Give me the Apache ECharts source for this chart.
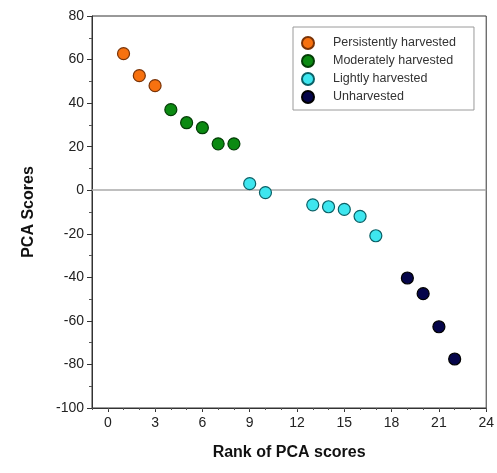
<!DOCTYPE html>
<html>
<head>
<meta charset="utf-8">
<script src="https://cdn.jsdelivr.net/npm/echarts@6/dist/echarts.min.js"></script>
<style>
  html, body { margin: 0; padding: 0; background: #fff; }
  #chart { width: 497px; height: 473px; }
</style>
</head>
<body>
<div id="chart"></div>
<script>
// ranks and PCA scores per harvest group
var persistentRank = [1, 2, 3];
var persistentScore = [62.7, 52.6, 48];
var moderateRank = [4, 5, 6, 7, 8];
var moderateScore = [37, 31, 28.7, 21.3, 21.3];
var lightRank = [9, 10, 13, 14, 15, 16, 17];
var lightScore = [3, -1.1, -6.7, -7.6, -8.8, -12, -20.9];
var unharvRank = [19, 20, 21, 22];
var unharvScore = [-40.3, -47.5, -62.7, -77.5];

var xTicks = [0, 3, 6, 9, 12, 15, 18, 21, 24];
var groupNames = ['Persistently harvested', 'Moderately harvested', 'Lightly harvested', 'Unharvested'];

function pairs(xs, ys) {
  return xs.map(function (x, i) { return [x, ys[i]]; });
}

var chart = echarts.init(document.getElementById('chart'));

function dots(name, xs, ys, fill, edge) {
  return {
    name: name,
    type: 'scatter',
    symbol: 'circle',
    symbolSize: 12,
    data: pairs(xs, ys),
    itemStyle: { color: fill, borderColor: edge, borderWidth: 1.2, opacity: 1 },
    z: 5
  };
}

var series = [
  dots(groupNames[0], persistentRank, persistentScore, '#f7710f', '#7a3306'),
  dots(groupNames[1], moderateRank, moderateScore, '#0b8a12', '#033d06'),
  dots(groupNames[2], lightRank, lightScore, '#3ee6ef', '#0a6066'),
  dots(groupNames[3], unharvRank, unharvScore, '#05054a', '#000000')
];
// grey line at zero
series[0].markLine = {
  silent: true,
  symbol: 'none',
  label: { show: false },
  lineStyle: { color: '#aaaaaa', width: 1.5, type: 'solid' },
  data: [{ yAxis: 0 }]
};

chart.setOption({
  animation: false,
  textStyle: { fontFamily: 'Liberation Sans, Arial, sans-serif' },
  grid: {
    left: 92, top: 16, right: 10, bottom: 65,
    show: true, borderColor: '#333', borderWidth: 1
  },
  legend: {
    orient: 'vertical',
    left: 293, top: 27,
    itemWidth: 12, itemHeight: 12, itemGap: 4,
    padding: [9, 18, 6, 8],
    borderColor: '#9a9a9a', borderWidth: 1,
    icon: 'circle',
    textStyle: { fontSize: 12.5, color: '#333', padding: [0, 0, 0, 14] },
    data: groupNames
  },
  xAxis: [{
    type: 'value', min: -1, max: 24,
    name: 'Rank of PCA scores', nameLocation: 'middle', nameGap: 37,
    nameTextStyle: { fontSize: 16, fontWeight: 'bold', color: '#111' },
    axisLine: { show: true, onZero: false, lineStyle: { color: '#333' } },
    axisTick: { show: true, length: 4, customValues: xTicks, lineStyle: { color: '#333' } },
    axisLabel: { customValues: xTicks, fontSize: 14, color: '#222', margin: 8 },
    splitLine: { show: false }
  }, {
    type: 'value', min: -1, max: 24, interval: 1,
    position: 'bottom',
    axisLine: { show: false, onZero: false },
    axisTick: { show: true, length: 2, lineStyle: { color: '#555' } },
    axisLabel: { show: false },
    splitLine: { show: false }
  }],
  yAxis: {
    type: 'value', min: -100, max: 80, interval: 20,
    name: 'PCA Scores', nameLocation: 'middle', nameGap: 55,
    nameTextStyle: { fontSize: 16, fontWeight: 'bold', color: '#111' },
    axisLine: { show: true, onZero: false, lineStyle: { color: '#333' } },
    axisTick: { show: true, length: 5, lineStyle: { color: '#333' } },
    minorTick: { show: true, splitNumber: 2, length: 3, lineStyle: { color: '#555' } },
    axisLabel: { fontSize: 14, color: '#222', margin: 8 },
    splitLine: { show: false }
  },
  series: series
});
</script>
</body>
</html>
